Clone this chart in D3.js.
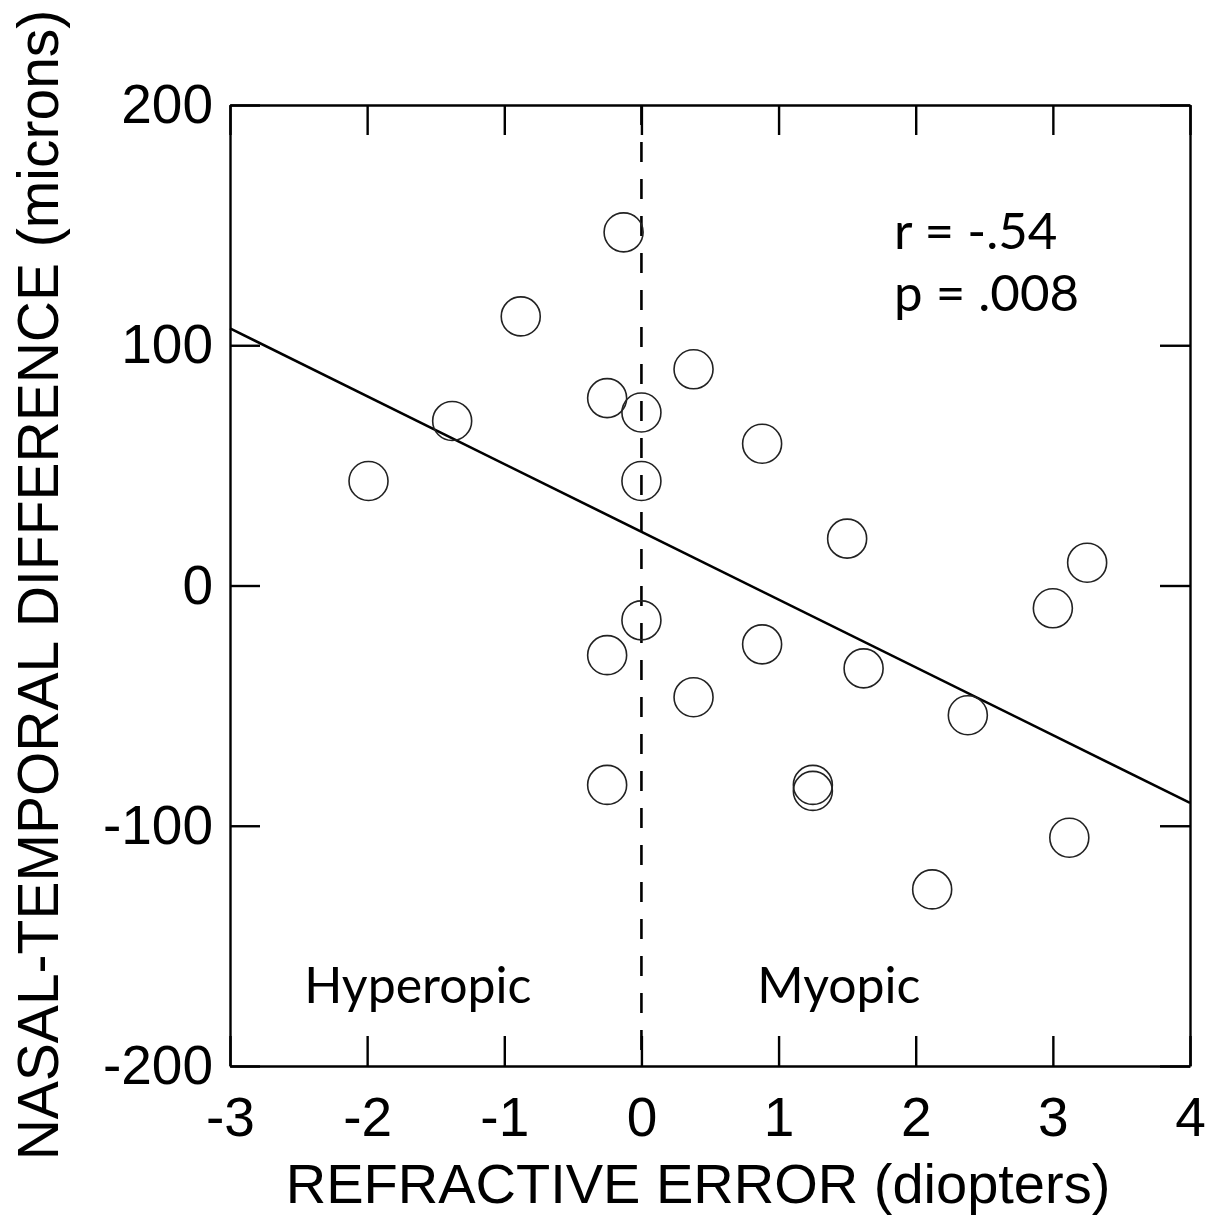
<!DOCTYPE html>
<html>
<head>
<meta charset="utf-8">
<script src="https://cdn.jsdelivr.net/npm/d3@7/dist/d3.min.js"></script>
<style>
  body { margin: 0; background: #fff; }
  svg { display: block; }
</style>
</head>
<body>
<div id="container"></div>
<script>
// refractive error (diopters) and nasal-temporal difference (microns)
const refractiveError = [-0.13, -0.88, 0.38, -0.25, 0, -1.38, 0.88, -1.99, 0, 1.5, 3.25, 3.0,
  0, -0.25, 0.88, 1.62, 0.38, 2.38, -0.25, 1.25, 1.25, 3.12, 2.12];
const ntDifference = [147, 112, 90, 78, 72, 68.5, 59, 43.5, 43.5, 19.5, 9.5, -9.5,
  -14.5, -29, -24.5, -34.5, -46.5, -54, -83, -83, -85.5, -105, -126.5];

// regression line end points
const fitX = [-3, 4];
const fitY = [107, -90.5];

const xTicks = [-3, -2, -1, 0, 1, 2, 3, 4];
const yTicks = [-200, -100, 0, 100, 200];

const statsText = ["r = -.54", "p = .008"];
const regionLabels = [{ label: "Hyperopic", x: -1.63 }, { label: "Myopic", x: 1.44 }];

const width = 1217;
const height = 1217;
const marginTop = 105;
const marginRight = 27;
const marginBottom = 151;
const marginLeft = 230;

const svg = d3.select("#container")
  .append("svg")
  .attr("width", width)
  .attr("height", height);

const x = d3.scaleLinear()
  .domain([-3, 4])
  .range([marginLeft, width - marginRight]);

const y = d3.scaleLinear()
  .domain([-200, 200])
  .range([height - marginBottom, marginTop]);

const tickFont = "'Liberation Sans', Arial, sans-serif";
const noteFont = "Lato, 'Open Sans', sans-serif";

function styleAxis(g) {
  g.selectAll("path.domain").attr("stroke", "#000").attr("stroke-width", 2.4);
  g.selectAll(".tick line").attr("stroke", "#000").attr("stroke-width", 2.4);
  g.selectAll(".tick text")
    .attr("fill", "#000")
    .attr("font-family", tickFont)
    .attr("font-size", 55);
}

svg.append("g")
  .attr("transform", `translate(0,${height - marginBottom})`)
  .call(d3.axisBottom(x).tickValues(xTicks).tickFormat(d3.format("d"))
    .tickSizeInner(-30).tickSizeOuter(0).tickPadding(31))
  .call(styleAxis)
  .call(g => g.selectAll(".tick text").text(d => d < 0 ? "-" + Math.abs(d) : d));

svg.append("g")
  .attr("transform", `translate(0,${marginTop})`)
  .call(d3.axisTop(x).tickValues(xTicks).tickFormat("")
    .tickSizeInner(-30).tickSizeOuter(0))
  .call(styleAxis);

svg.append("g")
  .attr("transform", `translate(${marginLeft},0)`)
  .call(d3.axisLeft(y).tickValues(yTicks)
    .tickSizeInner(-30).tickSizeOuter(0).tickPadding(17))
  .call(styleAxis)
  .call(g => g.selectAll(".tick text").text(d => d < 0 ? "-" + Math.abs(d) : d));

svg.append("g")
  .attr("transform", `translate(${width - marginRight},0)`)
  .call(d3.axisRight(y).tickValues(yTicks).tickFormat("")
    .tickSizeInner(-30).tickSizeOuter(0))
  .call(styleAxis);

// dashed line at zero refractive error
svg.append("line")
  .attr("x1", x(0)).attr("x2", x(0))
  .attr("y1", y(200)).attr("y2", y(-200))
  .attr("stroke", "#000")
  .attr("stroke-width", 2.6)
  .attr("stroke-dasharray", "20,17");

// regression line
svg.append("line")
  .attr("x1", x(fitX[0])).attr("y1", y(fitY[0]))
  .attr("x2", x(fitX[1])).attr("y2", y(fitY[1]))
  .attr("stroke", "#000")
  .attr("stroke-width", 2.6);

const points = refractiveError.map((d, i) => ({ re: d, nt: ntDifference[i] }));

svg.append("g")
  .selectAll("circle")
  .data(points)
  .join("circle")
  .attr("cx", d => x(d.re))
  .attr("cy", d => y(d.nt))
  .attr("r", 19.5)
  .attr("fill", "none")
  .attr("stroke", "#222")
  .attr("stroke-width", 1.6);

svg.append("g")
  .selectAll("text")
  .data(statsText)
  .join("text")
  .attr("x", 894)
  .attr("y", (d, i) => 249 + i * 62)
  .attr("font-family", noteFont)
  .attr("font-size", 51)
  .attr("fill", "#000")
  .text(d => d);

svg.append("g")
  .selectAll("text")
  .data(regionLabels)
  .join("text")
  .attr("x", d => x(d.x))
  .attr("y", 1003)
  .attr("text-anchor", "middle")
  .attr("font-family", noteFont)
  .attr("font-size", 50)
  .attr("fill", "#000")
  .text(d => d.label);

svg.append("text")
  .attr("x", 698)
  .attr("y", 1203)
  .attr("text-anchor", "middle")
  .attr("font-family", tickFont)
  .attr("font-size", 56)
  .attr("fill", "#000")
  .text("REFRACTIVE ERROR (diopters)");

svg.append("text")
  .attr("transform", "rotate(-90)")
  .attr("x", -585)
  .attr("y", 58)
  .attr("text-anchor", "middle")
  .attr("font-family", tickFont)
  .attr("font-size", 57)
  .attr("fill", "#000")
  .text("NASAL-TEMPORAL DIFFERENCE (microns)");
</script>
</body>
</html>
